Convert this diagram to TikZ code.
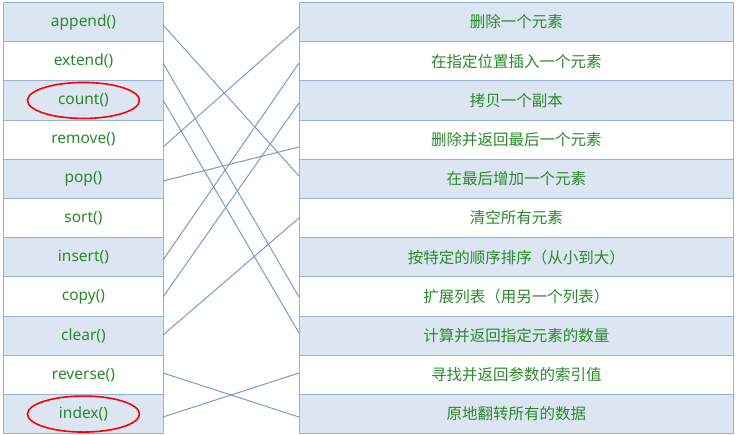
\documentclass[tikz,border=0pt]{standalone}
\usepackage{fontspec}
\setmainfont{Noto Sans}
\newfontfamily\cjk{Noto Sans CJK SC}
\usetikzlibrary{shapes.geometric}
\definecolor{cellblue}{HTML}{DCE6F2}
\definecolor{cellline}{HTML}{95B3D7}
\definecolor{linkc}{HTML}{7A9CC6}
\definecolor{txtg}{HTML}{2A8A2A}
\begin{document}
\begin{tikzpicture}[x=1pt,y=-1pt,
  lcell/.style={draw=cellline,line width=0.9pt,minimum width=160pt,minimum height=39.2pt,inner sep=0pt,text=txtg,font=\fontsize{15.5}{18}\selectfont,anchor=north west},
  rcell/.style={lcell,minimum width=434pt,font=\cjk\fontsize{15.5}{18}\selectfont},
  link/.style={draw=linkc,line width=1pt},
  redring/.style={draw=red,line width=1.6pt,ellipse,minimum width=112pt,minimum height=36pt}]
\useasboundingbox (0,0) rectangle (751,434);
\foreach \t [count=\i from 0] in {append(),extend(),count(),remove(),pop(),sort(),insert(),copy(),clear(),reverse(),index()}{
  \pgfmathsetmacro\yy{2+39.2*\i}
  \ifodd\i \def\ff{white}\else\def\ff{cellblue}\fi
  \node[lcell,fill=\ff] (L\i) at (3,\yy) {\t};
}
\foreach \t [count=\i from 0] in {删除一个元素,在指定位置插入一个元素,拷贝一个副本,删除并返回最后一个元素,在最后增加一个元素,清空所有元素,按特定的顺序排序（从小到大）,扩展列表（用另一个列表）,计算并返回指定元素的数量,寻找并返回参数的索引值,原地翻转所有的数据}{
  \pgfmathsetmacro\yy{2+39.2*\i}
  \ifodd\i \def\ff{white}\else\def\ff{cellblue}\fi
  \node[rcell,fill=\ff] (R\i) at (299,\yy) {\t};
}
\coordinate (a0) at (163,25); \coordinate (b0) at (299,176);
\coordinate (a1) at (163,63); \coordinate (b1) at (299,297);
\coordinate (a2) at (163,100); \coordinate (b2) at (299,333);
\coordinate (a3) at (163,147); \coordinate (b3) at (299,27);
\coordinate (a4) at (163,181); \coordinate (b4) at (299,147);
\coordinate (a5) at (163,260); \coordinate (b5) at (299,63);
\coordinate (a6) at (163,297); \coordinate (b6) at (299,103);
\coordinate (a7) at (163,335); \coordinate (b7) at (299,218);
\coordinate (a8) at (163,373); \coordinate (b8) at (299,417);
\coordinate (a9) at (163,417); \coordinate (b9) at (299,373);
\foreach \k in {0,...,9}{\draw[link] (a\k) -- (b\k);}
\node[redring] (c1) at (L2.center) {};
\node[redring] (c2) at (L10.center) {};
\end{tikzpicture}
\end{document}
